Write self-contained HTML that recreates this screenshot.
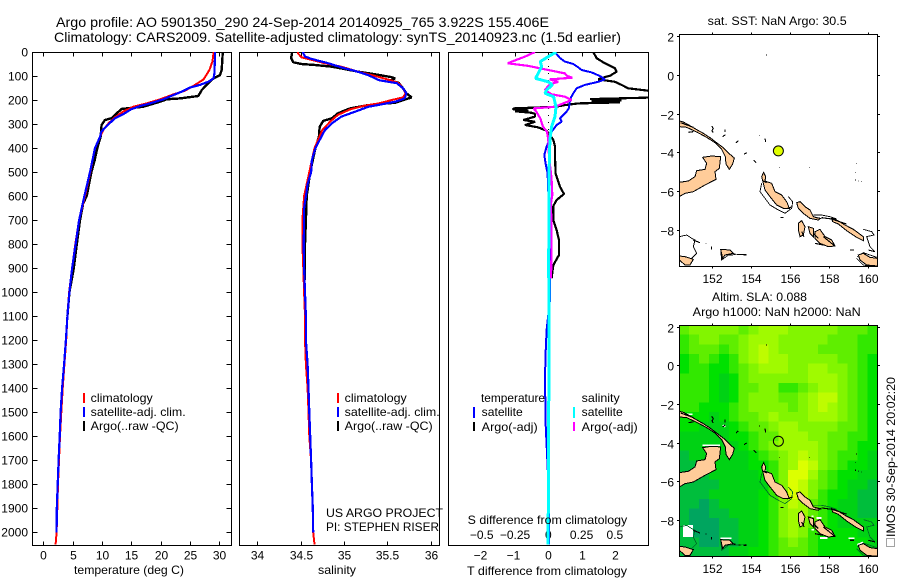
<!DOCTYPE html>
<html>
<head>
<meta charset="utf-8">
<title>Argo profile</title>
<style>
html,body{margin:0;padding:0;background:#fff;}
svg{display:block;}
text{font-family:"Liberation Sans",sans-serif;font-size:12px;fill:#000;}
.title{font-size:14px;}
.crisp,.crisp *{shape-rendering:crispEdges;}
.coast{fill:#FFCC99;stroke:#000;stroke-width:3;shape-rendering:crispEdges;}
.speck{fill:none;stroke:#000;stroke-width:3.4;shape-rendering:crispEdges;}
.ring{fill:none;stroke-width:2.6;shape-rendering:crispEdges;}
</style>
</head>
<body>
<svg id="chart" xmlns="http://www.w3.org/2000/svg" width="900" height="580" viewBox="0 0 900 580">
  <defs>
    <clipPath id="clip-temp"><rect x="32.5" y="52" width="198.5" height="493"/></clipPath>
    <clipPath id="clip-sal"><rect x="239.5" y="52" width="199.5" height="493"/></clipPath>
    <clipPath id="clip-diff"><rect x="448.5" y="52" width="200" height="493"/></clipPath>
    <clipPath id="clip-land"><rect x="88" y="44" width="594" height="696"/></clipPath>
    <g id="land-shapes">
      <polygon class="coast" points="88,303 100,306 118,316 135,326 160,340 180,353 205,372 222,385 240,403 253,414 248,432 238,448 228,432 226,410 215,388 195,368 170,352 140,336 110,322 88,320"/>
      <polygon class="coast" points="88,487 115,483 135,470 140,452 165,448 170,430 158,412 185,408 212,410 208,445 195,455 198,478 165,495 130,515 105,520 88,530"/>
      <polygon class="coast" points="335,470 341,457 347,470 345,483 365,490 375,515 395,525 410,545 418,565 400,565 380,555 360,530 345,510 340,490"/>
      <polygon class="coast" points="440,548 450,545 465,560 480,570 490,590 510,595 505,600 480,595 460,580 445,565"/>
      <polygon class="coast" points="545,595 560,600 585,615 610,628 640,650 640,662 620,652 590,632 565,612 548,605"/>
      <polygon class="coast" points="445,610 455,602 465,620 460,645 450,650 445,630"/>
      <polygon class="coast" points="475,620 490,625 490,650 480,640"/>
      <polygon class="coast" points="495,635 510,628 525,650 545,660 555,678 535,680 510,670 495,655"/>
      <polygon class="coast" points="625,705 640,700 660,712 682,715 682,738 650,735 630,720"/>
      <polygon class="coast" points="88,708 105,710 130,718 120,735 105,735 88,720"/>
      <polygon class="coast" points="212,688 240,690 250,700 225,705 218,715"/>
      <path class="speck" d="M92,308 L130,322 M115,337 L130,335 M185,318 L190,325 L186,332 L190,338 M225,328 V336 M218,350 L226,344 M258,368 L265,362 M282,403 L290,398 M311,420 L319,428 M345,355 L347,366 M350,103 V106 M328,346 V348 M388,441 V443 M478,441 V443 M338,482 L350,488 M410,566 L428,560 M392,592 H400 M495,592 L515,596 M515,593 L545,597 M545,597 L590,612 M455,635 L462,650 M490,640 L505,655 M520,650 L552,676 M495,670 L520,675 M600,690 H612 M655,690 L675,695 M130,660 L150,668 M168,670 V672 M185,680 V688 M250,702 H256 M265,704 H271 M280,705 H290 M620,430 V432 M616,456 V458 M615,480 H618 M625,483 H627 M633,485 H635"/>
    </g>
    <g id="land-rings">
      <path class="ring" d="M335,490 L330,515 L345,535 L360,555 L385,570 L405,580 L425,565 L428,545 L415,530"/>
      <path class="ring" d="M490,585 L515,585 L540,590 L560,597 M640,628 L665,635 L672,645 L650,650 L660,680 L675,695"/>
      <path class="ring" d="M622,710 L640,698 L680,712 M620,715 L640,735 L682,742"/>
      <path class="ring" d="M88,650 L110,645 L125,655 L135,660 L130,680 L140,700 L125,715"/>
      <path class="ring" d="M212,690 L215,720 L235,705 L290,703"/>
    </g>
  </defs>

  <text class="title" x="56" y="27" textLength="493" lengthAdjust="spacingAndGlyphs">Argo profile: AO 5901350_290 24-Sep-2014 20140925_765 3.922S 155.406E</text>
  <text class="title" x="54" y="42" textLength="567" lengthAdjust="spacingAndGlyphs">Climatology: CARS2009. Satellite-adjusted climatology: synTS_20140923.nc (1.5d earlier)</text>

  <g id="temp-panel"></g>
  <g id="sal-panel"></g>
  <g id="diff-panel"></g>
  <g id="map-sst"></g>
  <g id="map-sla"></g>

  <g class="crisp">
    <line x1="84" x2="84" y1="393" y2="403" stroke="#f00" stroke-width="2"/>
    <line x1="84" x2="84" y1="407" y2="417" stroke="#00f" stroke-width="2"/>
    <line x1="84" x2="84" y1="421" y2="431" stroke="#000" stroke-width="2"/>
  </g>
  <text x="90.7" y="402" textLength="62" lengthAdjust="spacingAndGlyphs">climatology</text>
  <text x="90.7" y="416" textLength="95" lengthAdjust="spacingAndGlyphs">satellite-adj. clim.</text>
  <text x="90.7" y="430" textLength="88" lengthAdjust="spacingAndGlyphs">Argo(..raw -QC)</text>

  <g class="crisp">
    <line x1="338" x2="338" y1="393" y2="403" stroke="#f00" stroke-width="2"/>
    <line x1="338" x2="338" y1="407" y2="417" stroke="#00f" stroke-width="2"/>
    <line x1="338" x2="338" y1="421" y2="431" stroke="#000" stroke-width="2"/>
  </g>
  <text x="344.7" y="402" textLength="62" lengthAdjust="spacingAndGlyphs">climatology</text>
  <text x="344.7" y="416" textLength="95" lengthAdjust="spacingAndGlyphs">satellite-adj. clim.</text>
  <text x="344.7" y="430" textLength="88" lengthAdjust="spacingAndGlyphs">Argo(..raw -QC)</text>
  <text x="326" y="517" textLength="117" lengthAdjust="spacingAndGlyphs">US ARGO PROJECT</text>
  <text x="326" y="531" textLength="113" lengthAdjust="spacingAndGlyphs">PI: STEPHEN RISER</text>

  <g class="crisp">
    <line x1="474" x2="474" y1="407" y2="418" stroke="#00f" stroke-width="2"/>
    <line x1="474" x2="474" y1="422" y2="431" stroke="#000" stroke-width="2"/>
    <line x1="574" x2="574" y1="407" y2="418" stroke="#0ff" stroke-width="2"/>
    <line x1="574" x2="574" y1="422" y2="431" stroke="#f0f" stroke-width="2"/>
  </g>
  <text x="481" y="402" textLength="64" lengthAdjust="spacingAndGlyphs">temperature</text>
  <text x="481.7" y="416" textLength="41" lengthAdjust="spacingAndGlyphs">satellite</text>
  <text x="481.7" y="431" textLength="56" lengthAdjust="spacingAndGlyphs">Argo(-adj)</text>
  <text x="581.7" y="402" textLength="38" lengthAdjust="spacingAndGlyphs">salinity</text>
  <text x="581.7" y="416" textLength="41" lengthAdjust="spacingAndGlyphs">satellite</text>
  <text x="581.7" y="431" textLength="56" lengthAdjust="spacingAndGlyphs">Argo(-adj)</text>

  <text x="74" y="574" textLength="110" lengthAdjust="spacingAndGlyphs">temperature (deg C)</text>
  <text x="318" y="574" textLength="38" lengthAdjust="spacingAndGlyphs">salinity</text>
  <text x="467.7" y="524" textLength="159.5" lengthAdjust="spacingAndGlyphs">S difference from climatology</text>
  <text x="467" y="575" textLength="160" lengthAdjust="spacingAndGlyphs">T difference from climatology</text>

  <text x="707.7" y="25" textLength="139" lengthAdjust="spacingAndGlyphs">sat. SST: NaN Argo: 30.5</text>
  <text x="712" y="301" textLength="95" lengthAdjust="spacingAndGlyphs">Altim. SLA: 0.088</text>
  <text x="692.7" y="316" textLength="168" lengthAdjust="spacingAndGlyphs">Argo h1000: NaN h2000: NaN</text>

  <rect x="886.5" y="538.5" width="8" height="8" fill="none" stroke="#444" stroke-dasharray="1 1" class="crisp"/>
  <text transform="translate(895,537) rotate(-90)" x="0" y="0" textLength="160" lengthAdjust="spacingAndGlyphs">IMOS 30-Sep-2014 20:02:20</text>

<script>
// ---------- temperature profile values ----------
const tempClimDepth = [0,6,40,75,114,137,161,176,197,214,228,248,272,297,325,353,400,500,600,700,800,900,1000,1100,1200,1300,1400,1500,1600,1700,1800,1900,2000,2050];
const tempClim = [29.0,29.0,28.8,28.3,27.3,25.85,24.15,22.2,19.9,17.6,15.3,13.6,12.2,11.1,10.2,9.66,8.8,8.0,7.1,6.1,5.45,4.9,4.4,4.1,3.9,3.6,3.3,3.07,2.84,2.67,2.5,2.39,2.27,2.1];
const tempSatDepth = [0,6,89,110,124,137,148,165,179,197,214,225,238,259,276,308,332,353,400,500,600,700,800,900,1000,1100,1200,1300,1400,1500,1600,1700,1800,1900,2000];
const tempSat = [29.26,29.26,29.15,29.0,28.1,26.7,25.0,23.6,22.2,20.45,18.2,16.5,15.0,13.6,12.2,10.8,9.9,9.66,8.8,7.95,7.0,6.1,5.5,4.9,4.45,4.1,3.85,3.55,3.2,2.95,2.8,2.6,2.45,2.3,2.27];
const tempArgoDepth = [0,6,75,96,110,130,158,183,193,197,207,228,232,237,255,276,283,304,353,400,450,500,600,630,700,800,900,1000,1100];
const tempArgo = [30.57,30.57,30.4,30.1,29.0,28.1,27.0,26.4,23.3,21.0,19.9,17.0,15.3,13.35,12.5,11.6,10.5,9.94,9.77,9.2,8.75,8.2,7.4,6.8,6.25,5.7,5.2,4.45,4.1];

// ---------- salinity profile values ----------
const salClimDepth = [0,6,22,33,47,61,82,100,119,130,151,172,189,200,214,223,239,262,290,325,366,400,500,600,700,800,900,1000,1100,1200,1300,1400,1500,1600,1700,1800,1900,2000,2050];
const salClim = [34.47,34.47,34.51,34.63,34.78,34.97,35.165,35.36,35.55,35.63,35.68,35.71,35.68,35.55,35.40,35.24,35.07,34.93,34.84,34.75,34.70,34.66,34.6,34.54,34.52,34.52,34.53,34.54,34.55,34.55,34.56,34.58,34.59,34.6,34.62,34.63,34.64,34.645,34.66];
const salSatDepth = [0,6,19,29,47,64,79,96,117,124,130,151,172,193,207,218,228,248,269,297,325,366,400,450,500,550,600,650,700,800,900,1000,1100,1200,1300,1400,1500,1600,1700,1800,1900,2000];
const salSat = [34.53,34.53,34.55,34.63,34.82,34.97,35.13,35.28,35.40,35.51,35.61,35.68,35.72,35.70,35.59,35.43,35.28,35.13,34.97,34.86,34.78,34.72,34.67,34.63,34.62,34.58,34.56,34.54,34.54,34.535,34.54,34.55,34.56,34.56,34.58,34.59,34.6,34.61,34.62,34.63,34.64,34.645];
const salArgoDepth = [0,6,26,43,50,54,61,71,82,93,105,110,119,128,151,172,189,211,221,235,255,276,287,311,353,400,500,600,700,800,900,950];
const salArgo = [34.40,34.40,34.39,34.415,34.51,34.665,34.86,35.01,35.165,35.36,35.55,35.59,35.53,35.63,35.68,35.72,35.78,35.59,35.28,35.07,34.93,34.86,34.76,34.72,34.71,34.67,34.61,34.57,34.56,34.55,34.55,34.55];

// ---------- difference profile values ----------
const diffTSatDepth = [0,6,25,40,50,64,75,85,100,114,124,137,151,172,190,205,234,248,276,290,304,332,359,394,429,464,505,700,1032,1157,1255,1352,1544,1698,1851,2050];
const diffTSat = [0.15,0.23,0.35,0.5,0.75,0.9,1.0,1.3,1.55,1.7,1.5,1.1,0.85,0.75,0.68,0.65,0.62,0.55,0.35,0.4,0.25,0.1,0.05,-0.05,-0.12,-0.08,-0.02,0.03,0.05,-0.05,-0.08,-0.1,-0.08,-0.03,0.02,0.02];
const diffTArgoDepth = [0,26,47,68,82,99,110,114,124,137,151,161,167,186,190,196,201,205,210,214,221,228,235,239,243,247,253,258,269,283,290,304,314,328,346,366,394,436,505,561,591,616,641,700,741,783,845,887,942];
const diffTArgo = [1.35,1.45,1.7,2.0,2.05,1.85,1.55,1.5,2.0,2.2,2.4,3.0,3.3,3.3,3.0,1.25,2.2,1.3,2.15,0.9,0.5,0.2,-1.05,-1.05,-0.6,-1.0,-0.5,-0.4,-0.4,-0.75,-0.4,-0.7,-0.3,-0.05,0.05,0.15,0.2,0.2,0.22,0.35,0.47,0.25,0.15,0.15,0.25,0.32,0.32,0.15,0.1];
const diffSArgoDepth = [0,19,33,47,58,75,89,99,107,114,124,135,158,176,186,200,228,235,249,276,311,332,366,436,505,533,595,630,783,818,942];
const diffSArgo = [-0.1,-0.175,-0.24,-0.305,-0.15,0,0.125,0.14,0.18,0.01,0.075,0.01,-0.025,0.025,0.125,0.175,0.05,-0.11,-0.09,-0.06,-0.04,-0.01,0,0.005,0.02,0.025,0.03,0.02,0.025,0.025,0.02];
const diffSSatDepth = [0,19,40,61,82,110,124,137,158,172,186,228,269,311,366,505,900,1200,1500,1800,2050];
const diffSSat = [0.06,0,-0.06,-0.05,-0.07,-0.095,0,0.03,-0.012,-0.025,0.04,0.058,0.05,0.025,0.012,0.005,0.003,0.006,0.003,0.002,-0.003];

// ---------- tick values ----------
const depthTicks = [0,100,200,300,400,500,600,700,800,900,1000,1100,1200,1300,1400,1500,1600,1700,1800,1900,2000];
const tempTicks = [0,5,10,15,20,25,30];
const salTicks = [34,34.5,35,35.5,36];
const diffTTicks = [-2,-1,0,1,2];
const diffSTicks = [-0.5,-0.25,0,0.25,0.5];
const lonTicks = [152,154,156,158,160];
const latTicks = [2,0,-2,-4,-6,-8];

// ---------- map values ----------
const floatLon = 155.406;
const floatLat = -3.922;
const slaLonStart = 150.3;
const slaLonStep = 0.51;
const slaLatStart = 2.08;
const slaLatStep = 0.4992;
const slaLevels = [
 [5,6,6,6,6,6,5,6,7,7,7,6,6,6,6,6,5,5,5,4],
 [4,5,6,6,5,5,6,7,7,7,6,6,6,6,6,5,5,5,4,4],
 [4,5,5,5,4,5,6,7,8,7,6,6,6,6,5,5,5,5,4,4],
 [3,4,5,4,3,4,6,7,8,7,7,6,6,6,6,6,5,5,4,3],
 [3,4,4,3,3,4,5,6,7,7,7,6,6,7,7,6,6,5,4,3],
 [4,4,4,3,2,3,5,6,6,6,6,6,6,7,7,7,6,5,4,3],
 [4,4,4,3,2,3,5,5,6,6,4,4,5,6,7,7,6,5,4,3],
 [4,4,4,3,2,3,5,6,6,6,5,5,6,7,8,8,6,5,4,3],
 [4,4,3,3,3,4,5,6,6,6,6,5,6,7,8,7,6,5,4,3],
 [3,3,3,2,3,4,5,5,6,7,6,6,6,7,7,7,6,5,4,3],
 [3,3,2,2,2,3,4,5,5,6,7,7,6,6,6,6,5,5,4,3],
 [2,2,2,2,2,3,3,4,5,5,7,7,7,6,6,5,5,4,4,3],
 [2,2,2,2,2,2,3,4,5,6,7,7,7,7,6,5,5,4,3,3],
 [1,2,2,2,2,2,2,3,4,5,6,7,8,7,6,5,4,4,3,2],
 [1,1,2,2,2,2,2,3,3,4,6,7,9,8,6,5,4,3,3,2],
 [1,1,1,2,2,2,2,2,3,4,6,9,9,7,5,4,3,3,2,2],
 [1,1,1,1,2,2,2,2,2,4,6,9,8,6,5,4,3,2,2,1],
 [1,1,1,2,2,2,2,2,3,4,6,9,8,6,4,3,3,2,1,1],
 [1,1,0,1,2,2,2,2,3,4,6,8,7,5,4,3,2,2,1,1],
 [1,0,0,1,1,2,2,2,3,4,6,7,7,5,4,3,2,2,1,1],
 [1,0,0,0,1,1,2,2,3,4,6,7,6,5,4,3,2,2,2,2],
 [1,0,0,0,1,1,2,2,3,4,6,7,6,4,3,3,3,3,2,2],
 [1,1,0,0,1,1,2,2,3,4,5,6,5,4,3,3,3,3,3,2],
 [1,1,1,1,1,2,2,3,3,4,5,5,5,4,3,3,3,3,3,2]
];

// ---------- axis functions ----------
const NS = 'http://www.w3.org/2000/svg';
const depthY = d => 52 + d * 0.2402;
const tempX = t => 43.3 + t * 5.87;
const salX = s => 257.3 + (s - 34) * 86.7;
const diffTX = t => 548.3 + t * 33.3;
const diffSX = s => 548.3 + s * 133.2;
const lonX = lon => 712.3 + (lon - 152) * 19.4;
const latYsst = lat => 75 - lat * 19.35;
const latYsla = lat => 365.3 - lat * 19.35;
const fmtNeg = v => String(v).replace('-', '\u2212');

function mk(parent, tag, attrs) {
  const el = document.createElementNS(NS, tag);
  for (const k in attrs) el.setAttribute(k, attrs[k]);
  parent.appendChild(el);
  return el;
}
function seg(parent, x1, y1, x2, y2) {
  return mk(parent, 'line', {x1: x1, y1: y1, x2: x2, y2: y2, stroke: '#000', 'stroke-width': 1, 'shape-rendering': 'crispEdges'});
}
function label(parent, x, y, str, anchor) {
  const t = mk(parent, 'text', {x: x, y: y, 'text-anchor': anchor});
  t.textContent = str;
  return t;
}
function profile(parent, depths, values, xf, color, clip, width) {
  const pts = depths.map((d, i) => xf(values[i]).toFixed(1) + ',' + depthY(d).toFixed(1)).join(' ');
  return mk(parent, 'polyline', {points: pts, fill: 'none', stroke: color, 'stroke-width': width, 'clip-path': 'url(#' + clip + ')', 'shape-rendering': 'crispEdges', 'stroke-linejoin': 'bevel'});
}
function frame(parent, x0, x1, y0, y1) {
  const r = mk(parent, 'rect', {x: x0, y: y0, width: x1 - x0, height: y1 - y0, fill: 'none', stroke: '#000', 'stroke-width': 1, 'shape-rendering': 'crispEdges'});
  
  
  return r;
}

// ---------- temperature panel ----------
const tp = document.getElementById('temp-panel');
frame(tp, 32.5, 231.5, 52.5, 545.5);
depthTicks.forEach(d => {
  const y = Math.round(depthY(d)) + 0.5;
  const a = seg(tp, 32.5, y, 37.5, y);
  
  
  const b = seg(tp, 226.5, y, 231.5, y);
  
  
  const t = label(tp, 28, y + 4, String(d), 'end');
  
  
});
tempTicks.forEach(v => {
  const x = Math.round(tempX(v)) + 0.5;
  const a = seg(tp, x, 52.5, x, 56.5);
  
  
  const b = seg(tp, x, 541.5, x, 545.5);
  
  
  const t = label(tp, x, 559.5, String(v), 'middle');
  
  
});
const l1 = profile(tp, tempArgoDepth, tempArgo, tempX, '#000', 'clip-temp', 2.4);


const l2 = profile(tp, tempClimDepth, tempClim, tempX, '#f00', 'clip-temp', 2);


const l3 = profile(tp, tempSatDepth, tempSat, tempX, '#00f', 'clip-temp', 2.2);



// ---------- salinity panel ----------
const sp = document.getElementById('sal-panel');
frame(sp, 239.5, 439.5, 52.5, 545.5);
salTicks.forEach(v => {
  const x = Math.round(salX(v)) + 0.5;
  const a = seg(sp, x, 52.5, x, 56.5);
  
  
  const b = seg(sp, x, 541.5, x, 545.5);
  
  
  const t = label(sp, x, 559.5, String(v), 'middle');
  
  
});
const l4 = profile(sp, salArgoDepth, salArgo, salX, '#000', 'clip-sal', 2.4);


const l5 = profile(sp, salClimDepth, salClim, salX, '#f00', 'clip-sal', 2);


const l6 = profile(sp, salSatDepth, salSat, salX, '#00f', 'clip-sal', 2.2);



// ---------- difference panel ----------
const dp = document.getElementById('diff-panel');
frame(dp, 448.5, 648.5, 52.5, 545.5);
const zeroLine = mk(dp, 'line', {x1: 548.5, x2: 548.5, y1: 52, y2: 545, stroke: '#000', 'stroke-width': 1, 'stroke-dasharray': '1 6', 'shape-rendering': 'crispEdges'});


diffTTicks.forEach(v => {
  const x = Math.round(diffTX(v)) + 0.5;
  const a = seg(dp, x, 52.5, x, 56.5);
  
  
  const t = label(dp, x - (v < 0 ? 2 : 0), 559.5, fmtNeg(v), 'middle');
  
  
});
diffSTicks.forEach(v => {
  const t = label(dp, diffSX(v), 539, fmtNeg(v), 'middle');
  
  
});
const l7 = profile(dp, diffTArgoDepth, diffTArgo, diffTX, '#000', 'clip-diff', 2.2);


const l8 = profile(dp, diffTSatDepth, diffTSat, diffTX, '#00f', 'clip-diff', 2);


const l9 = profile(dp, diffSArgoDepth, diffSArgo, diffSX, '#f0f', 'clip-diff', 2.2);


const l10 = profile(dp, diffSSatDepth, diffSSat, diffSX, '#0ff', 'clip-diff', 3);



// ---------- maps ----------
function levelColor(v) {
  const stops = [[0,165,95],[0,190,60],[0,210,20],[0,225,0],[50,232,0],[95,238,0],[130,245,0],[160,250,0],[190,252,0],[220,255,0]];
  const s = stops[Math.max(0, Math.min(9, Math.round(v)))];
  return 'rgb(' + s[0] + ',' + s[1] + ',' + s[2] + ')';
}
function mapAxes(g, latY, top, bottom, labelBase) {
  lonTicks.forEach(v => {
    const x = Math.round(lonX(v)) + 0.5;
    const a = seg(g, x, top - 2, x, top);
    
    
    const b = seg(g, x, bottom, x, bottom + 2);
    
    
    const t = label(g, x, labelBase, String(v), 'middle');
    
    
  });
  latTicks.forEach(v => {
    const y = Math.round(latY(v)) + 0.5;
    const a = seg(g, 677, y, 679.5, y);
    
    
    const b = seg(g, 877.5, y, 880, y);
    
    
    const t = label(g, 674, y + 5, fmtNeg(v), 'end');
    
    
  });
}
function landLayer(g, dy, ringColor, withWhite) {
  const wrap = mk(g, 'g', {transform: 'translate(650,' + dy + ') scale(0.33333)', 'clip-path': 'url(#clip-land)'});
  
  
  if (withWhite) {
    const edge = mk(wrap, 'path', {d: 'M158,405 H210 M100,312 H128 M212,684 H245 M346,480 L352,492 M500,623 H514 M485,658 H492 M510,683 H532 M622,703 L640,696 M218,345 L226,349 M595,684 H614 M484,618 H490', fill: 'none', stroke: '#fff', 'stroke-width': 5, 'shape-rendering': 'crispEdges'});
    
    
  }
  mk(wrap, 'use', {href: '#land-rings', stroke: ringColor});
  mk(wrap, 'use', {href: '#land-shapes'});
}

// SST map
const m1 = document.getElementById('map-sst');
landLayer(m1, 20, '#000', false);
frame(m1, 679.5, 877.5, 34.5, 266.5);
mapAxes(m1, latYsst, 34.5, 266.5, 283);
const dot1 = mk(m1, 'circle', {cx: lonX(floatLon), cy: latYsst(floatLat), r: 5, fill: '#E0FF00', stroke: '#000', 'stroke-width': 1});



// SLA map
const m2 = document.getElementById('map-sla');
const heat = mk(m2, 'g', {'shape-rendering': 'crispEdges'});


slaLevels.forEach((row, j) => {
  row.forEach((v, i) => {
    const lon = slaLonStart + i * slaLonStep;
    const lat = slaLatStart - j * slaLatStep;
    const x = lonX(lon);
    const y = latYsla(lat);
    const c = mk(heat, 'rect', {x: x.toFixed(2), y: y.toFixed(2), width: (lonX(lon + slaLonStep) - x + 0.3).toFixed(2), height: (latYsla(lat - slaLatStep) - y + 0.3).toFixed(2), fill: levelColor(v)});
    
    
  });
});
const gap = mk(m2, 'rect', {x: 683, y: 525, width: 10, height: 12, fill: '#fff', 'shape-rendering': 'crispEdges'});


landLayer(m2, 310.3, '#006b28', true);
frame(m2, 679.5, 877.5, 325.5, 556.5);
mapAxes(m2, latYsla, 325.5, 556.5, 573);
const dot2 = mk(m2, 'circle', {cx: lonX(floatLon), cy: latYsla(floatLat), r: 5, fill: 'none', stroke: '#000', 'stroke-width': 1});


</script>
</svg>
</body>
</html>
